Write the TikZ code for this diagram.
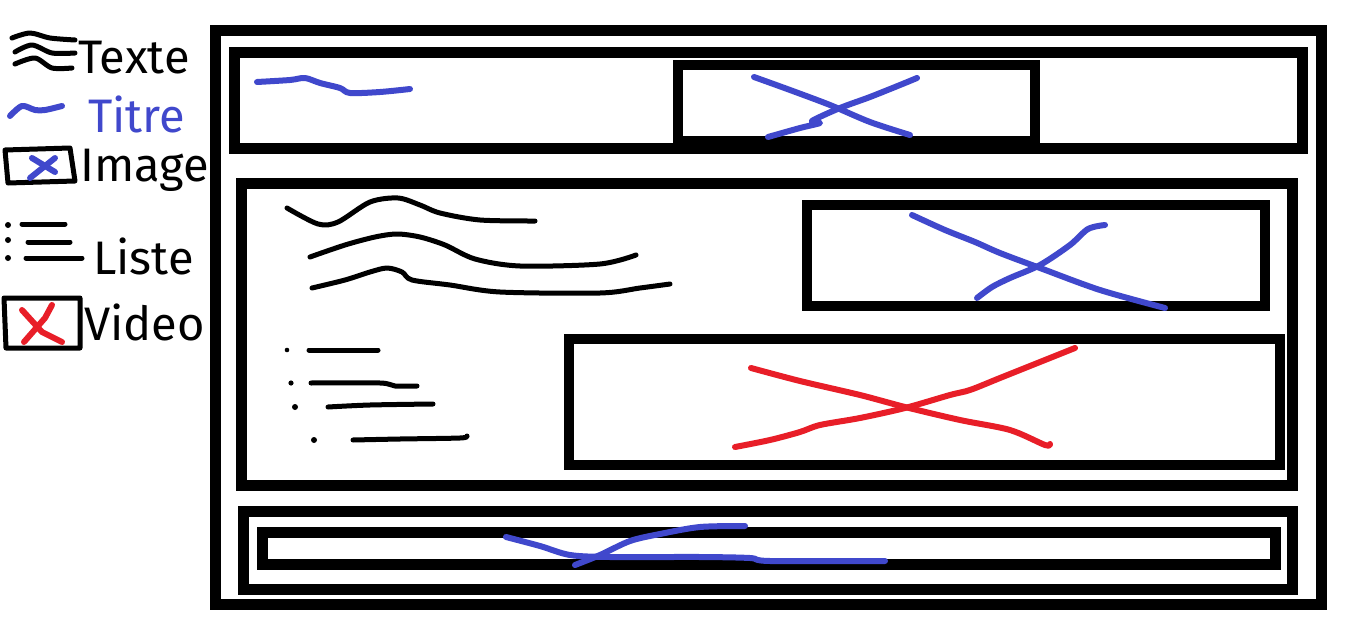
\documentclass[tikz,border=0pt]{standalone}
\usepackage{fontspec}
\setmainfont{Fira Sans}
\definecolor{penblue}{RGB}{64,72,204}
\definecolor{penred}{RGB}{232,30,40}
\begin{document}
\begin{tikzpicture}[x=1pt,y=-1pt,
  frame/.style={draw=black,line width=11pt},
  thinframe/.style={draw=black,line width=10pt},
  ink/.style={line width=5pt,line cap=round,line join=round},
  blueink/.style={ink,draw=penblue,line width=6pt},
  redink/.style={ink,draw=penred,line width=6pt},
  blackink/.style={ink,draw=black},
  legtext/.style={anchor=west,inner sep=0pt,font=\fontsize{47}{50}\selectfont}]
\useasboundingbox[fill=white] (0,0) rectangle (1350,629);

% ---------- legend ----------
\draw[blackink] plot[smooth] coordinates {(12,38) (30,33) (50,38) (75,40)};
\draw[blackink] plot[smooth] coordinates {(15,52) (32,45) (52,53) (75,53)};
\draw[blackink] plot[smooth] coordinates {(15,64) (35,58) (52,68) (72,68)};
\node[legtext] (ltexte) at (78,58) {Texte};

\draw[blueink] plot[smooth] coordinates {(10,116) (22,106) (35,110) (45,110) (62,106)};
\node[legtext,text=penblue] (ltitre) at (88,114) {Titre};

\draw[blackink] (5,150) -- (70,148) -- (75,181) -- (8,183) -- cycle;
\draw[blueink] (32,158) -- (55,172);
\draw[blueink] (55,158) -- (30,178);
\node[legtext] (limage) at (80,170) {Image};

\fill (8,225) circle (3pt) (8,240) circle (3pt) (8,258) circle (3pt);
\draw[blackink] (22,224) -- (65,224);
\draw[blackink] (28,242) -- (70,242);
\draw[blackink] (26,258) -- (82,258);
\node[legtext] (lliste) at (93,256) {Liste};

\draw[blackink] (4,298) -- (80,298) -- (80,348) -- (6,348) -- cycle;
\draw[redink] (22,310) -- (42,332) -- (62,342);
\draw[redink] (52,305) -- (45,318) -- (24,342);
\node[legtext] (lvideo) at (84,322) {Video};

% ---------- page ----------
\draw[frame] (215,30) rectangle (1321,604);

% header
\draw[frame] (234,52) rectangle (1302,148);
\draw[thinframe] (678,65) rectangle (1035,141);
\draw[blueink] plot[smooth] coordinates {(257,82) (290,80) (305,78) (320,83) (340,88) (350,93) (380,92) (410,89)};
\draw[blueink] plot[smooth] coordinates {(754,77) (790,90) (830,105) (870,122) (910,135)};
\draw[blueink] plot[smooth] coordinates {(917,78) (900,85) (870,97) (840,108) (812,121) (820,123) (800,128) (768,137)};

% main content
\draw[frame] (241,183) rectangle (1292,485);
\draw[blackink] plot[smooth] coordinates {(287,208) (318,224) (338,222) (370,202) (398,198) (420,205) (440,213) (480,220) (535,221)};
\draw[blackink] plot[smooth] coordinates {(310,257) (345,245) (375,237) (397,234) (420,237) (445,245) (475,259) (520,266) (600,264) (636,255)};
\draw[blackink] plot[smooth] coordinates {(312,288) (345,280) (370,272) (387,268) (402,272) (412,280) (450,285) (500,292) (600,293) (640,288) (670,284)};

\fill (287,350) circle (2.3pt) (291,383) circle (2.6pt) (295,407) circle (3pt) (314,440) circle (3pt);
\draw[blackink] (309,350) -- (378,350);
\draw[blackink] plot[smooth] coordinates {(311,383) (380,383) (395,386) (417,386)};
\draw[blackink] plot[smooth] coordinates {(328,407) (370,405) (433,404)};
\draw[blackink] plot[smooth] coordinates {(353,440) (400,439) (460,438) (467,436)};

\draw[thinframe] (807,205) rectangle (1265,306);
\draw[blueink] plot[smooth] coordinates {(912,215) (945,230) (975,242) (1000,253) (1040,268) (1100,290) (1165,308)};
\draw[blueink] plot[smooth] coordinates {(977,298) (992,287) (1010,278) (1040,265) (1070,245) (1088,229) (1105,225)};

\draw[thinframe] (569,339) rectangle (1280,465);
\draw[redink] plot[smooth] coordinates {(751,368) (800,381) (860,395) (905,407) (960,420) (1010,430) (1045,445) (1050,444)};
\draw[redink] plot[smooth] coordinates {(735,447) (770,440) (800,432) (820,425) (860,418) (905,408) (950,395) (970,390) (1000,378) (1040,362) (1075,348)};

% footer
\draw[frame] (243,511) rectangle (1292,589);
\draw[frame] (262,532) rectangle (1275,564);
\draw[blueink] plot[smooth] coordinates {(506,537) (540,546) (570,555) (610,557) (700,557) (750,558) (770,561) (885,561)};
\draw[blueink] plot[smooth] coordinates {(575,565) (600,555) (630,541) (660,534) (700,527) (745,526)};
\end{tikzpicture}
\end{document}
